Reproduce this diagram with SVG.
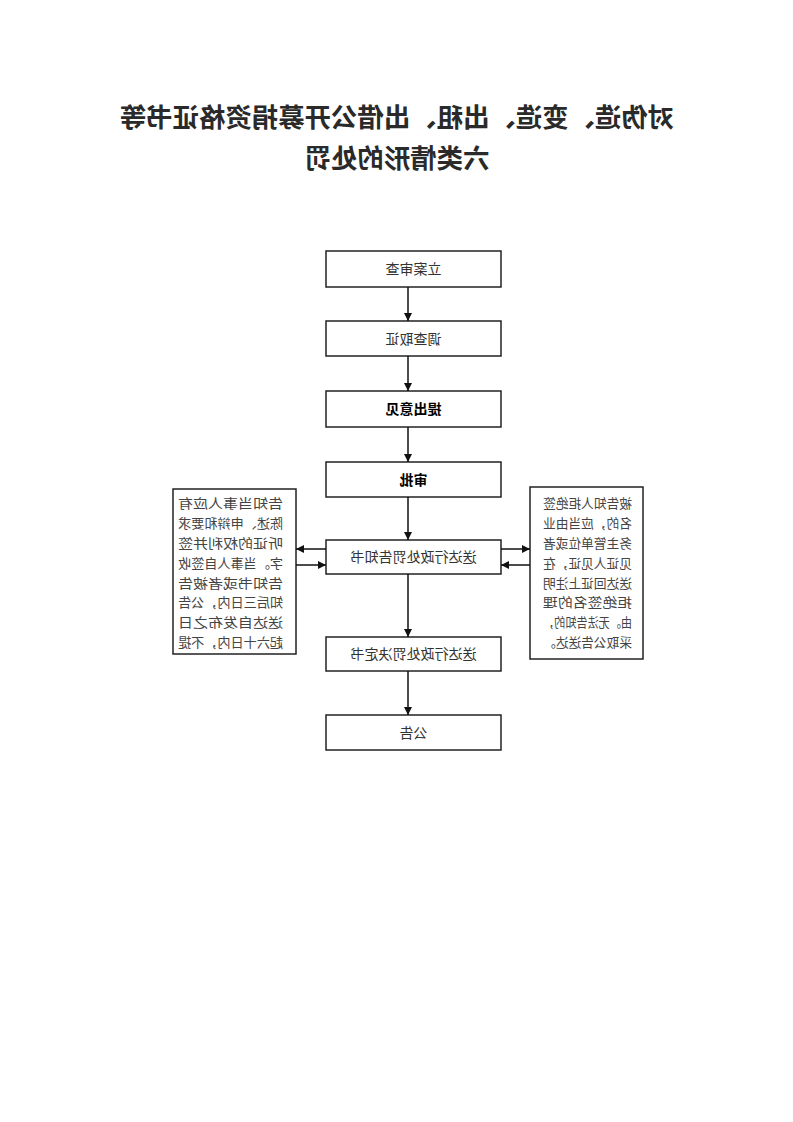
<svg xmlns="http://www.w3.org/2000/svg" width="793" height="1122" viewBox="0 0 793 1122">
<style>
.t{font-family:"Noto Sans CJK SC","Noto Sans CJK TC",sans-serif;}
.title{font-size:26.4px;font-weight:bold;fill:#2a2a2a;text-anchor:middle;}
.box{fill:#fff;stroke:#222;stroke-width:1.5;}
.lbl{font-size:14px;fill:#333;text-anchor:middle;}
.lblb{font-size:14px;fill:#000;font-weight:bold;text-anchor:middle;}
.side{font-size:13px;fill:#444;}
.conn{stroke:#111;stroke-width:1.5;fill:none;marker-end:url(#ah);}
</style>
<defs>
<marker id="ah" viewBox="0 0 10 10" refX="10" refY="5" markerWidth="8" markerHeight="8" markerUnits="userSpaceOnUse" orient="auto">
<path d="M0,0 L10,5 L0,10 z" fill="#111"/>
</marker>
</defs>
<rect width="793" height="1122" fill="#fff"/>
<g transform="matrix(-1 0 0 1 793 0)">
<g id="title" class="t">
<text class="t title" x="396" y="127">对伪造、变造、出租、出借公开募捐资格证书等</text>
<text class="t title" x="396" y="168">六类情形的处罚</text>
</g>
<g id="n1"><rect class="box" x="292" y="251" width="175" height="36"/><text class="t lbl" x="379.5" y="274">立案审查</text></g>
<g id="n2"><rect class="box" x="292" y="321" width="175" height="35"/><text class="t lbl" x="379.5" y="343.5">调查取证</text></g>
<g id="n3"><rect class="box" x="292" y="391" width="175" height="36"/><text class="t lblb" x="379.5" y="414">提出意见</text></g>
<g id="n4"><rect class="box" x="292" y="462" width="175" height="35"/><text class="t lblb" x="379.5" y="484.5">审批</text></g>
<g id="n5"><rect class="box" x="292" y="540" width="175" height="34"/><text class="t lbl" x="379.5" y="562">送达行政处罚告知书</text></g>
<g id="n6"><rect class="box" x="292" y="637" width="175" height="34"/><text class="t lbl" x="379.5" y="659">送达行政处罚决定书</text></g>
<g id="n7"><rect class="box" x="292" y="715" width="175" height="35"/><text class="t lbl" x="379.5" y="737.5">公告</text></g>
<g id="noteR">
<rect class="box" x="497" y="489" width="123" height="165"/>
<g class="t side">
<text x="510" y="508" textLength="105" lengthAdjust="spacingAndGlyphs">告知当事人应有</text>
<text x="510" y="528" textLength="105" lengthAdjust="spacingAndGlyphs">陈述、申辩和要求</text>
<text x="510" y="548" textLength="105" lengthAdjust="spacingAndGlyphs">听证的权利并签</text>
<text x="510" y="568" textLength="105" lengthAdjust="spacingAndGlyphs">字。当事人自签收</text>
<text x="510" y="588" textLength="105" lengthAdjust="spacingAndGlyphs">告知书或者被告</text>
<text x="510" y="607" textLength="105" lengthAdjust="spacingAndGlyphs">知后三日内，公告</text>
<text x="510" y="627" textLength="105" lengthAdjust="spacingAndGlyphs">送达自发布之日</text>
<text x="510" y="647" textLength="105" lengthAdjust="spacingAndGlyphs">起六十日内，不提</text>
</g>
</g>
<g id="noteL">
<rect class="box" x="150" y="487" width="113" height="172"/>
<g class="t side">
<text x="161" y="508" textLength="89" lengthAdjust="spacingAndGlyphs">被告知人拒绝签</text>
<text x="161" y="528" textLength="89" lengthAdjust="spacingAndGlyphs">名的，应当由业</text>
<text x="161" y="548" textLength="89" lengthAdjust="spacingAndGlyphs">务主管单位或者</text>
<text x="161" y="568" textLength="89" lengthAdjust="spacingAndGlyphs">见证人见证，在</text>
<text x="161" y="588" textLength="89" lengthAdjust="spacingAndGlyphs">送达回证上注明</text>
<text x="161" y="607" textLength="89" lengthAdjust="spacingAndGlyphs">拒绝签名的理</text>
<text x="161" y="627" textLength="89" lengthAdjust="spacingAndGlyphs">由。无法告知的，</text>
<text x="161" y="647" textLength="89" lengthAdjust="spacingAndGlyphs">采取公告送达。</text>
</g>
</g>
<g id="connectors">
<line class="conn" x1="385" y1="287" x2="385" y2="321"/>
<line class="conn" x1="385" y1="356" x2="385" y2="391"/>
<line class="conn" x1="385" y1="427" x2="385" y2="462"/>
<line class="conn" x1="385" y1="497" x2="385" y2="540"/>
<line class="conn" x1="385" y1="574" x2="385" y2="637"/>
<line class="conn" x1="385" y1="671" x2="385" y2="715"/>
<line class="conn" x1="467" y1="549" x2="497" y2="549"/>
<line class="conn" x1="497" y1="565" x2="467" y2="565"/>
<line class="conn" x1="292" y1="549" x2="263" y2="549"/>
<line class="conn" x1="263" y1="565" x2="292" y2="565"/>
</g>
</g>
</svg>
